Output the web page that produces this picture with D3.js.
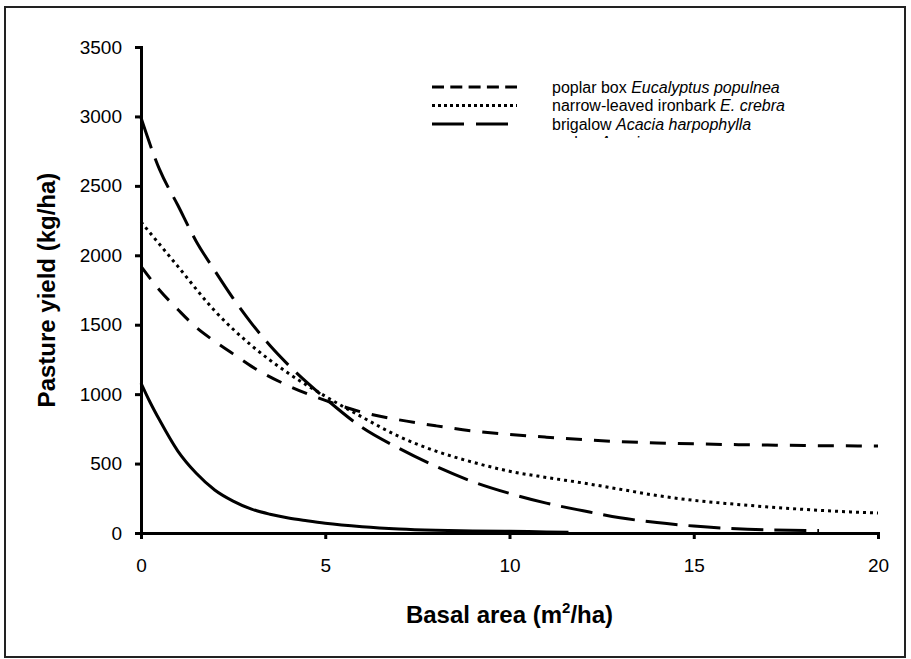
<!DOCTYPE html>
<html>
<head>
<meta charset="utf-8">
<script src="https://cdn.jsdelivr.net/npm/d3@7"></script>
<style>
  body { margin: 0; background: #fff; }
  svg { display: block; font-family: "Liberation Sans", Arial, sans-serif; }
</style>
</head>
<body>
<div id="chart"></div>
<script>
// basal area (m2/ha) and pasture yield (kg/ha)
var poplarX = [0, 0.5, 1, 1.5, 2, 2.5, 3, 4, 5, 6, 7, 8, 9, 10, 11, 12, 13, 14, 15, 16, 17, 18, 19, 20];
var poplarY = [1920, 1750, 1610, 1480, 1380, 1290, 1200, 1060, 955, 870, 815, 772, 735, 710, 690, 672, 658, 648, 642, 637, 633, 630, 628, 626];

var ironbarkX = [0, 1, 2, 3, 4, 5, 6, 7, 8, 9, 10, 11, 12, 13, 14, 15, 16, 17, 18, 19, 20];
var ironbarkY = [2240, 1920, 1600, 1350, 1150, 985, 835, 695, 590, 510, 445, 400, 360, 315, 270, 235, 210, 188, 170, 155, 144];

var brigalowX = [0, 0.5, 1, 1.5, 2, 2.5, 3, 3.5, 4, 5, 6, 7, 8, 9, 10, 11, 12, 13, 14, 15, 16, 17, 18.4];
var brigalowY = [2990, 2620, 2360, 2100, 1890, 1690, 1510, 1350, 1210, 970, 760, 610, 480, 370, 285, 215, 160, 110, 75, 50, 32, 22, 18];

var mulgaX = [0, 0.25, 0.5, 1, 1.5, 2, 2.5, 3, 3.5, 4, 4.5, 5, 6, 7, 8, 9, 10, 11, 11.6];
var mulgaY = [1080, 940, 815, 590, 430, 310, 230, 172, 135, 108, 88, 70, 45, 29, 20, 15, 12, 8, 6];

var seriesNames = ["poplar box ", "narrow-leaved ironbark ", "brigalow ", "mulga "];
var seriesLatin = ["Eucalyptus populnea", "E. crebra", "Acacia harpophylla", "Acacia aneura"];

var xTicks = [0, 5, 10, 15, 20];
var yTicks = [0, 500, 1000, 1500, 2000, 2500, 3000, 3500];

var svgWidth = 911, svgHeight = 659;
var margin = {top: 47, right: 33, bottom: 126, left: 141};
var width = svgWidth - margin.left - margin.right;
var height = svgHeight - margin.top - margin.bottom;

var x = d3.scaleLinear().domain([0, 20]).range([0, width]);
var y = d3.scaleLinear().domain([0, 3500]).range([height, 0]);

var line = d3.line()
  .x(function(d) { return x(d[0]); })
  .y(function(d) { return y(d[1]); })
  .curve(d3.curveMonotoneX);

var dashes = ["16,12", "3,4", "32,11", null];
var legendDashes = ["12,6.3", "3,3", "32,12", null];

var series = [
  d3.zip(poplarX, poplarY),
  d3.zip(ironbarkX, ironbarkY),
  d3.zip(brigalowX, brigalowY),
  d3.zip(mulgaX, mulgaY)
];

var svg = d3.select("#chart").append("svg")
  .attr("width", svgWidth)
  .attr("height", svgHeight);

// outer frame
svg.append("rect")
  .attr("x", 5).attr("y", 7)
  .attr("width", 900).attr("height", 650)
  .attr("fill", "none")
  .attr("stroke", "#222")
  .attr("stroke-width", 2);

var g = svg.append("g")
  .attr("transform", "translate(" + margin.left + "," + margin.top + ")");

// curves
series.forEach(function(s, i) {
  g.append("path")
    .datum(s)
    .attr("fill", "none")
    .attr("stroke", "#000")
    .attr("stroke-width", 3)
    .attr("stroke-dasharray", dashes[i])
    .attr("d", line);
});

// axes
var xAxis = g.append("g")
  .attr("transform", "translate(0," + height + ")")
  .call(d3.axisBottom(x).tickValues(xTicks).tickFormat(d3.format("d"))
    .tickSize(6).tickSizeOuter(6).tickPadding(20));

var yAxis = g.append("g")
  .call(d3.axisLeft(y).tickValues(yTicks).tickFormat(d3.format("d"))
    .tickSize(6).tickSizeOuter(6).tickPadding(13));

[xAxis, yAxis].forEach(function(a) {
  a.select(".domain").attr("stroke-width", 3);
  a.selectAll(".tick line").attr("stroke-width", 3);
  a.selectAll(".tick text")
    .attr("font-size", 19)
    .attr("font-family", "Liberation Sans, Arial, sans-serif")
    .attr("fill", "#000");
});

// axis titles
var xTitle = svg.append("text")
  .attr("x", margin.left + width / 2)
  .attr("y", 623)
  .attr("text-anchor", "middle")
  .attr("font-size", 24)
  .attr("font-weight", "bold");
xTitle.append("tspan").text("Basal area (m");
xTitle.append("tspan").attr("font-size", 15).attr("dy", -10).text("2");
xTitle.append("tspan").attr("dy", 10).text("/ha)");

svg.append("text")
  .attr("transform", "translate(55," + (margin.top + height / 2) + ") rotate(-90)")
  .attr("text-anchor", "middle")
  .attr("font-size", 24)
  .attr("font-weight", "bold")
  .text("Pasture yield (kg/ha)");

// legend, clipped at the bottom like the original
svg.append("clipPath").attr("id", "legendClip")
  .append("rect")
  .attr("x", 420).attr("y", 70).attr("width", 450).attr("height", 68);

var legend = svg.append("g").attr("clip-path", "url(#legendClip)");

seriesNames.forEach(function(name, i) {
  var ly = 87 + i * 18.5;
  legend.append("line")
    .attr("x1", 432).attr("x2", 517)
    .attr("y1", ly).attr("y2", ly)
    .attr("stroke", "#000")
    .attr("stroke-width", 3)
    .attr("stroke-dasharray", legendDashes[i]);
  var t = legend.append("text")
    .attr("x", 552).attr("y", ly + 5.5)
    .attr("font-size", 16);
  t.append("tspan").text(name);
  t.append("tspan").attr("font-style", "italic").text(seriesLatin[i]);
});
</script>
</body>
</html>
